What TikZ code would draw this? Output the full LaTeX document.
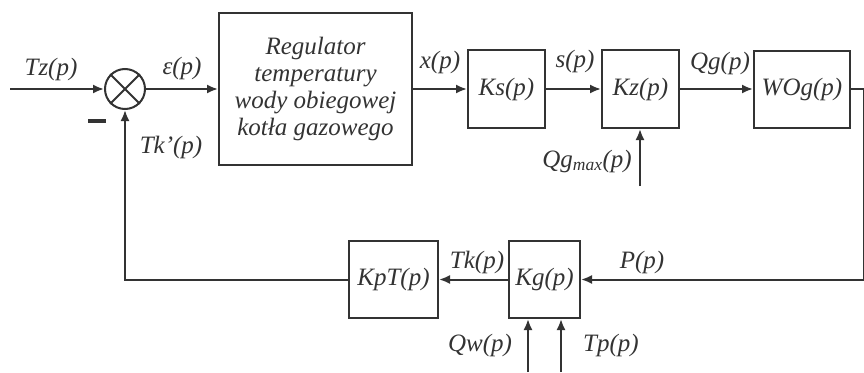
\documentclass[tikz,border=0pt]{standalone}
\usepackage{fontspec}
\setmainfont{Liberation Serif}
\usetikzlibrary{arrows.meta}
\begin{document}
\begin{tikzpicture}[x=1pt,y=-1pt,
  every node/.style={font=\itshape\fontsize{25}{27}\selectfont, text=black!80},
  blk/.style={draw=black!80, line width=2pt, inner sep=0pt, align=center},
  sig/.style={line width=2pt, draw=black!80, line join=miter, -{Latex[length=11pt,width=9pt]}},
  lbl/.style={inner sep=0pt}]
\useasboundingbox (0,0) rectangle (864,372);
% blocks
\node[draw=black!80, line width=2pt, circle, minimum size=40pt, inner sep=0pt] (sum) at (125,89) {};
\draw[line width=2pt, black!80] (sum.north west) -- (sum.south east) (sum.north east) -- (sum.south west);
\node[blk, minimum width=193pt, minimum height=152pt] (reg) at (315.5,89)
  {Regulator\\temperatury\\wody obiegowej\\kotła gazowego};
\node[blk, minimum width=77pt, minimum height=78pt] (ks) at (506.5,89) {Ks(p)};
\node[blk, minimum width=77pt, minimum height=78pt] (kz) at (640.5,89) {Kz(p)};
\node[blk, minimum width=96pt, minimum height=77pt] (wog) at (802,89) {WOg(p)};
\node[blk, minimum width=89pt, minimum height=77pt] (kpt) at (393.5,279.5) {KpT(p)};
\node[blk, minimum width=71pt, minimum height=77pt] (kg) at (544.5,279.5) {Kg(p)};
% free ends
\coordinate (in) at (10,89);
\coordinate (rc1) at (863.5,89);
\coordinate (rc2) at (863.5,279.5);
\coordinate (lc) at (125,279.5);
\coordinate (qgm) at (640,186);
\coordinate (qw) at (528,372);
\coordinate (tp) at (561,372);
% connectors
\draw[sig] (in) -- (sum.west);
\draw[sig] (sum.east) -- (reg.west);
\draw[sig] (reg.east) -- (ks.west);
\draw[sig] (ks.east) -- (kz.west);
\draw[sig] (kz.east) -- (wog.west);
\draw[sig] (wog.east) -- (rc1) -- (rc2) -- (kg.east);
\draw[sig] (kg.west) -- (kpt.east);
\draw[sig] (kpt.west) -- (lc) -- (sum.south);
\draw[sig] (qgm) -- (qgm |- kz.south);
\draw[sig] (qw) -- (qw |- kg.south);
\draw[sig] (tp) -- (tp |- kg.south);
% labels
\node[lbl] (ltz) at (51,69) {Tz(p)};
\node[lbl] (leps) at (182,68) {ε(p)};
\node[lbl] (ltkp) at (171,147) {Tk’(p)};
\node[lbl, fill=black!80, minimum width=18pt, minimum height=3.5pt] (minus) at (97,121) {};
\node[lbl] (lx) at (440,62) {x(p)};
\node[lbl] (ls) at (575,61) {s(p)};
\node[lbl] (lqg) at (720,63) {Qg(p)};
\node[lbl] (lqgm) at (587,161) {Qg\textsubscript{max}(p)};
\node[lbl] (ltk) at (477,262) {Tk(p)};
\node[lbl] (lp) at (642,262) {P(p)};
\node[lbl] (lqw) at (480,345) {Qw(p)};
\node[lbl] (ltp) at (611,345) {Tp(p)};
\end{tikzpicture}
\end{document}
